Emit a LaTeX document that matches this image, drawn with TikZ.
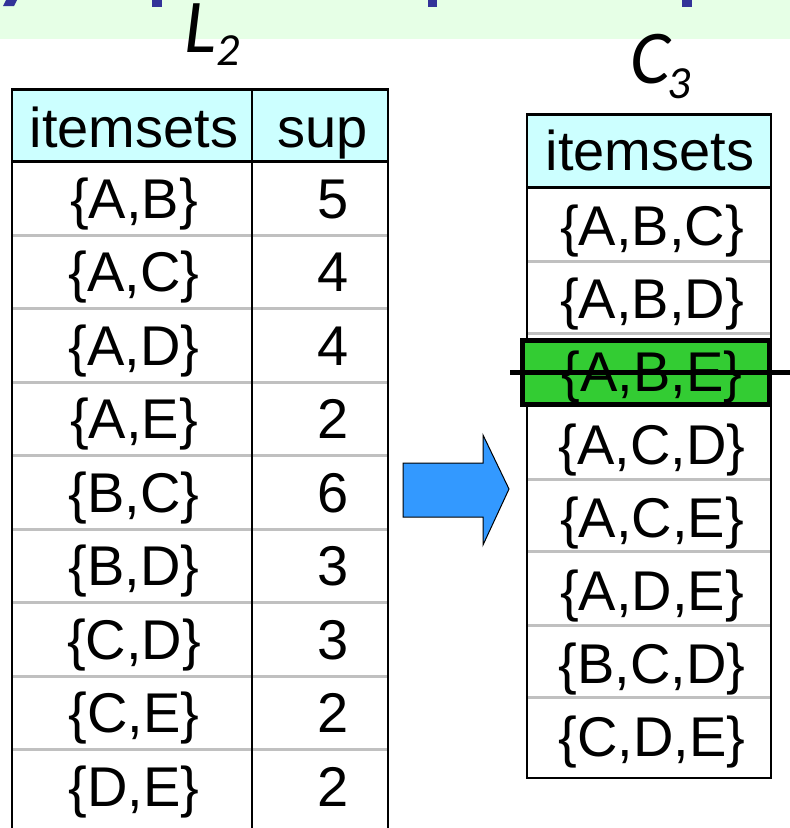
\documentclass[tikz,border=0pt]{standalone}
\usepackage{fontspec}
\setmainfont{Liberation Sans}
\newfontfamily\labelfont{Carlito}
\definecolor{band}{HTML}{E6FFE6}
\definecolor{titleblue}{HTML}{333399}
\definecolor{headcyan}{HTML}{CCFFFF}
\definecolor{rowgray}{HTML}{C0C0C0}
\definecolor{prunegreen}{HTML}{33CC33}
\definecolor{arrowblue}{HTML}{3399FF}

\begin{document}
\begin{tikzpicture}[x=1pt, y=-1pt,
    cell/.style = {anchor=base, inner sep=0pt, font=\fontsize{56}{60}\selectfont},
    main/.style = {anchor=base west, inner sep=0pt, text height=46pt, font=\labelfont\itshape\fontsize{76}{80}\selectfont},
    sub/.style = {anchor=base west, inner sep=0pt, text height=28pt, font=\labelfont\itshape\fontsize{46}{50}\selectfont},
    sep/.style = {draw=rowgray, line width=3pt},
    border/.style = {draw=black, line width=2pt}]
    \useasboundingbox (0,0) rectangle (790,828);

    % band of the slide title
    \fill[band] (0,0) rectangle (790,39);
    \fill[titleblue] (6,0) -- (17,0) -- (14,6) -- (3,6) -- cycle;
    \fill[titleblue] (152,0) rectangle (162,7);
    \fill[titleblue] (428,0) rectangle (437,7);
    \fill[titleblue] (682,0) rectangle (692,7);

    % L_2
    \node[main] (l2) at (184,52) {L};
    \node[sub] (l2sub) at (216,65) {2};
    \fill[headcyan] (12,89) rectangle (388,161);
    \foreach \k in {0,...,7}
        \draw[sep] (12,235+73.5*\k) -- (388,235+73.5*\k);
    \draw[border] (12,828) -- (12,89) -- (388,89) -- (388,828);
    \draw[border] (252,89) -- (252,828);
    \draw[line width=3pt] (12,89) -- (388,89) (12,161) -- (388,161);
    \node[cell] (sethead) at (134,147) {itemsets};
    \node[cell] (suphead) at (323,147) {sup};
    \foreach \set/\cnt [count=\i from 0] in {{A,B}/5, {A,C}/4, {A,D}/4, {A,E}/2, {B,C}/6, {B,D}/3, {C,D}/3, {C,E}/2, {D,E}/2} {
        \node[cell] (set\i) at (134,218+73.5*\i) {\{\set\}};
        \node[cell] (sup\i) at (333,218+73.5*\i) {\cnt};
    }

    % arrow
    \draw[fill=arrowblue, line width=1pt] (403,463) -- (483,463) -- (483,435) -- (509,489)
        -- (483,545) -- (483,517) -- (403,517) -- cycle;

    % C_3
    \node[main] (c3) at (630,83) {C};
    \node[sub] (c3sub) at (667,98) {3};
    \fill[headcyan] (527,114) rectangle (771,187);
    \foreach \y in {261,333,479,551,625,697}
        \draw[sep] (527,\y) -- (771,\y);
    \draw[border] (527,114) rectangle (771,778);
    \draw[line width=3pt] (527,114) -- (771,114) (527,187) -- (771,187);
    \fill[prunegreen, draw=black, line width=5pt] (522,340) rectangle (769,404);
    \node[cell] (cand) at (650,170) {itemsets};
    \foreach \set [count=\i from 0] in {{A,B,C}, {A,B,D}, {A,B,E}, {A,C,D}, {A,C,E}, {A,D,E}, {B,C,D}, {C,D,E}}
        \node[cell] (cand\i) at (652,245+73*\i) {\{\set\}};
    \draw[line width=5pt] (510,372) -- (790,372);
\end{tikzpicture}
\end{document}
